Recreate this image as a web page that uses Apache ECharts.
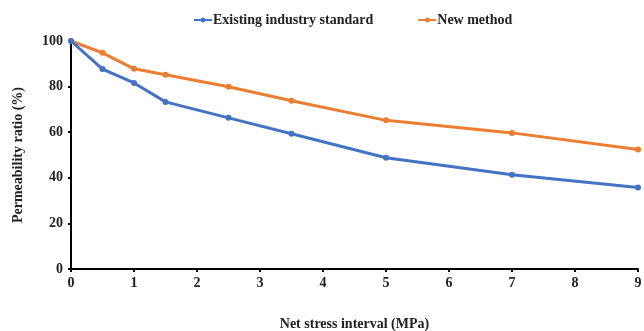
<!DOCTYPE html>
<html><head><meta charset="utf-8">
<script src="https://cdn.jsdelivr.net/npm/echarts@6/dist/echarts.min.js"></script>
<style>html,body{margin:0;padding:0;background:#fff}#c{width:644px;height:331px}</style>
</head><body><div id="c"></div>
<script>
const stress = [0, 0.5, 1, 1.5, 2.5, 3.5, 5, 7, 9];
const existing = [100, 87.7, 81.6, 73.3, 66.3, 59.3, 48.8, 41.3, 35.7];
const newMethod = [100, 94.8, 87.8, 85.2, 79.9, 73.8, 65.2, 59.7, 52.4];
const seriesNames = ['Existing industry standard', 'New method'];
const font = '"Liberation Serif", "Times New Roman", serif';
const chart = echarts.init(document.getElementById('c'));
const pairs = (ys) => stress.map((x, i) => [x, ys[i]]);
chart.setOption({
  animation: false,
  textStyle: {fontFamily: font},
  legend: {
    top: 8, left: 188, itemGap: 44, itemWidth: 18, itemHeight: 6,
    textStyle: {fontFamily: font, fontWeight: 'bold', fontSize: 14, color: '#222', padding: [0, 0, 0, -4]},
    data: seriesNames
  },
  grid: {left: 71, right: 6, top: 41, bottom: 62, containLabel: false, outerBoundsMode: 'none'},
  xAxis: {
    type: 'value', min: 0, max: 9, interval: 1,
    name: 'Net stress interval (MPa)', nameLocation: 'middle', nameGap: 48,
    nameTextStyle: {fontFamily: font, fontWeight: 'bold', fontSize: 14, color: '#222'},
    axisLine: {lineStyle: {color: '#000', width: 2}},
    axisTick: {show: true, length: 3, lineStyle: {color: '#000', width: 2}},
    axisLabel: {fontFamily: font, fontWeight: 'bold', fontSize: 14, color: '#222', margin: 7},
    splitLine: {show: false}
  },
  yAxis: {
    type: 'value', min: 0, max: 100, interval: 20,
    name: 'Permeability ratio (%)', nameLocation: 'middle', nameGap: 46,
    nameTextStyle: {fontFamily: font, fontWeight: 'bold', fontSize: 14, color: '#222'},
    axisLine: {show: true, lineStyle: {color: '#000', width: 2}},
    axisTick: {show: true, length: 3, lineStyle: {color: '#000', width: 2}},
    axisLabel: {fontFamily: font, fontWeight: 'bold', fontSize: 14, color: '#222', margin: 8},
    splitLine: {show: false}
  },
  series: [
    {name: seriesNames[0], type: 'line', data: pairs(existing), symbol: 'circle', symbolSize: 6,
     lineStyle: {color: '#4472C4', width: 3}, itemStyle: {color: '#4472C4'}, z: 3},
    {name: seriesNames[1], type: 'line', data: pairs(newMethod), symbol: 'circle', symbolSize: 6,
     lineStyle: {color: '#ED7D31', width: 3}, itemStyle: {color: '#ED7D31'}, z: 2}
  ]
});
</script></body></html>
